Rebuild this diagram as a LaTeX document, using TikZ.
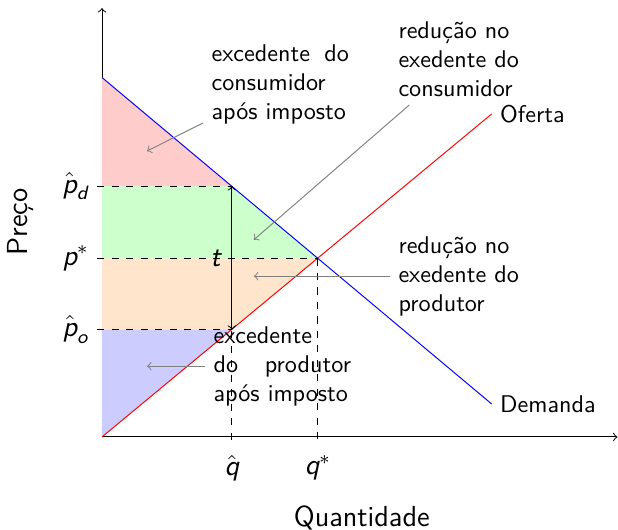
\documentclass[tikz,border=0pt]{standalone}
\usepackage{amsmath}
\usepackage{amssymb}
\usepackage{tikz}
\usetikzlibrary{positioning,calc}
\renewcommand{\familydefault}{\sfdefault}

\begin{document}
\begin{tikzpicture}[
    rotulo/.style={text width=2cm, align=justify},
    rotuloesq/.style={text width=2cm, align=left},
    seta/.style={->, gray},
    eixo/.style={->},
    valor/.style={font=\large}]
    \useasboundingbox (-1.484,-1.353) rectangle (7.508,6.358);

    % Definición de los puntos
    \coordinate (O) at (0,0);
    \coordinate (D0) at (0,5.23);
    \coordinate (D1) at (5.67,0.48);
    \coordinate (S1) at (5.67,4.70);
    \coordinate (E) at (3.14,2.60);
    \coordinate (A) at (1.89,3.65);
    \coordinate (B) at (1.89,1.56);
    \coordinate (pd) at (0,3.65);
    \coordinate (ps) at (0,2.60);
    \coordinate (po) at (0,1.56);

    % Ejes
    \draw[eixo] (O) -- (7.50,0);
    \draw[eixo] (O) -- (0,6.24);

    % Áreas
    \fill[red!20] (D0) -- (A) -- (pd) -- cycle;
    \fill[green!20] (pd) -- (A) -- (E) -- (ps) -- cycle;
    \fill[orange!20] (ps) -- (E) -- (B) -- (po) -- cycle;
    \fill[blue!20] (po) -- (B) -- (O) -- cycle;

    % Curvas
    \draw[blue] (D0) -- (D1);
    \draw[red] (O) -- (S1);
    \node[right] (oferta) at (S1) {Oferta};
    \node[right] (demanda) at (D1) {Demanda};

    % Precios y cantidades
    \draw[dashed] ([xshift=-2pt]pd) -- (A);
    \draw[dashed] ([xshift=-2pt]ps) -- (E);
    \draw[dashed] ([xshift=-2pt]po) -- (B);
    \draw[dashed] (A) -- ([yshift=-2pt]A |- O);
    \draw[dashed] (E) -- ([yshift=-2pt]E |- O);
    \draw[<->] (B) -- (A);
    \node[valor, left] (lpd) at ([xshift=-2pt]pd) {$\hat{\textit{p}}_{\textit{d}}$};
    \node[valor, left] (lps) at ([xshift=-2pt]ps) {$\textit{p}^*$};
    \node[valor, left] (lpo) at ([xshift=-2pt]po) {$\hat{\textit{p}}_{\textit{o}}$};
    \node[valor, below=2pt] (lqh) at ([yshift=-2pt]A |- O) {$\hat{\textit{q}}$};
    \node[valor, below=2pt] (lqs) at ([yshift=-2pt]E |- O) {$\textit{q}^*$};
    \node[valor] (lt) at (1.65,2.60) {$\textit{t}$};

    % Títulos de los ejes
    \node[font=\large] (qtd) at (3.78,-1.18) {Quantidade};
    \node[font=\large, rotate=90] (preco) at (-1.18,3.13) {Preço};

    % Excedentes
    \node[rotulo, anchor=west] (exccons) at (1.47,5.13) {excedente do consumidor após imposto};
    \node[rotulo, anchor=west] (excprod) at (1.50,1.03) {excedente\\ do produtor após imposto};
    \node[rotuloesq, anchor=west] (redcons) at (4.19,5.50) {redução no exedente do consumidor};
    \node[rotuloesq, anchor=west] (redprod) at (4.19,2.34) {redução no exedente do produtor};

    \coordinate (cs) at (0.655,4.16);
    \coordinate (rc) at (2.21,2.87);
    \coordinate (rp) at (2.21,2.34);
    \coordinate (ep) at (0.655,1.03);
    \draw[seta] ([yshift=4pt]exccons.south west) -- (cs);
    \draw[seta] ([xshift=8pt]redcons.south west) -- (rc);
    \draw[seta] (redprod.west) -- (rp);
    \draw[seta] (excprod.west) -- (ep);
\end{tikzpicture}
\end{document}
